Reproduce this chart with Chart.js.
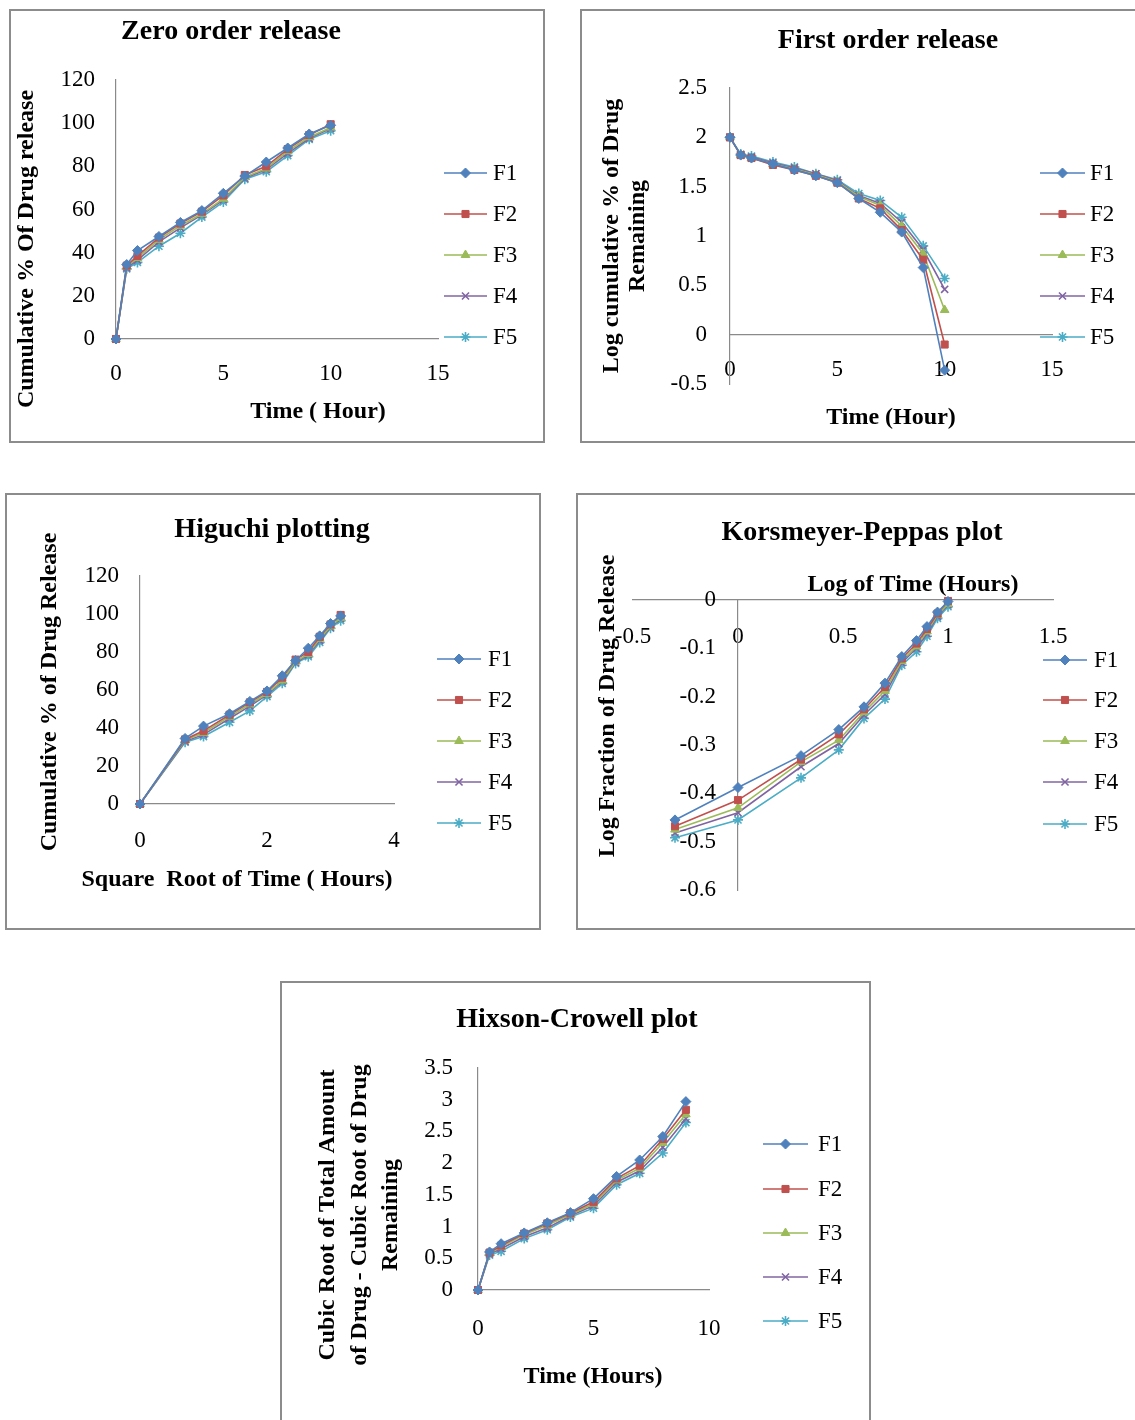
<!DOCTYPE html>
<html>
<head>
<meta charset="utf-8">
<script src="https://cdn.jsdelivr.net/npm/chart.js@4.4.0/dist/chart.umd.min.js"></script>
<style>
body { margin: 0; background: #fff; width: 1135px; height: 1420px; position: relative; overflow: hidden; }
.panel { position: absolute; box-sizing: border-box; border: 2px solid #8c8c8c; }
canvas { position: absolute; }
</style>
</head>
<body>
<div class="panel" style="left:9px;top:9px;width:536px;height:434px"></div>
<div class="panel" style="left:580px;top:9px;width:570px;height:434px"></div>
<div class="panel" style="left:5px;top:493px;width:536px;height:437px"></div>
<div class="panel" style="left:576px;top:493px;width:570px;height:437px"></div>
<div class="panel" style="left:280px;top:981px;width:591px;height:450px"></div>
<canvas id="zero" width="536" height="434" style="left:9px;top:9px"></canvas>
<canvas id="first" width="555" height="434" style="left:580px;top:9px"></canvas>
<canvas id="higuchi" width="536" height="437" style="left:5px;top:493px"></canvas>
<canvas id="peppas" width="559" height="437" style="left:576px;top:493px"></canvas>
<canvas id="hixson" width="591" height="439" style="left:280px;top:981px"></canvas>
<script>
var series = ['F1', 'F2', 'F3', 'F4', 'F5'];
var colors = ['#4F81BD', '#C0504D', '#9BBB59', '#8064A2', '#4BACC6'];
var marks = ['rectRot', 'rect', 'triangle', 'crossRot', 'star'];
var radii = [5, 5, 5, 5, 5];
var markWidths = [1, 1, 1, 1.6, 1.6];

// zero order (cumulative % released vs time)
var zeroTime = [0, 0.5, 1, 2, 3, 4, 5, 6, 7, 8, 9, 10];
var zeroF1 = [0, 34.5, 41, 47.5, 54, 59.5, 67.5, 75.5, 82, 88.5, 95, 99];
var zeroF2 = [0, 34, 38.5, 47, 53.5, 59, 66.5, 76, 80, 88, 94.5, 99.5];
var zeroF3 = [0, 33.5, 37.5, 46, 52.5, 58, 65, 75, 79, 87, 93.5, 98];
var zeroF4 = [0, 33, 36.5, 45, 51.5, 57.5, 64.5, 74.5, 78.5, 86, 93, 97.5];
var zeroF5 = [0, 32.5, 35.5, 43, 49, 56.5, 63.5, 74, 77.5, 85, 92.5, 96.5];
var zeroXTicks = [0, 5, 10, 15];
var zeroYTicks = [0, 20, 40, 60, 80, 100, 120];

// first order (log % remaining)
var firstF1 = [2, 1.82, 1.79, 1.73, 1.67, 1.61, 1.54, 1.38, 1.24, 1.04, 0.68, -0.36];
var firstF2 = [2, 1.82, 1.79, 1.72, 1.67, 1.61, 1.54, 1.38, 1.28, 1.06, 0.76, -0.1];
var firstF3 = [2, 1.82, 1.79, 1.73, 1.68, 1.62, 1.55, 1.40, 1.31, 1.10, 0.82, 0.25];
var firstF4 = [2, 1.82, 1.80, 1.74, 1.69, 1.63, 1.56, 1.41, 1.33, 1.14, 0.86, 0.46];
var firstF5 = [2, 1.83, 1.81, 1.75, 1.70, 1.63, 1.57, 1.43, 1.36, 1.19, 0.90, 0.57];
var firstXTicks = [0, 5, 10, 15];
var firstYTicks = [-0.5, 0, 0.5, 1, 1.5, 2, 2.5];

// higuchi (same release values against square root of time)
var rootTime = [0, 0.71, 1, 1.41, 1.73, 2, 2.24, 2.45, 2.65, 2.83, 3, 3.16];
var higXTicks = [0, 2, 4];
var higYTicks = [0, 20, 40, 60, 80, 100, 120];

// korsmeyer-peppas (log fraction released vs log time)
var logTime = [-0.30, 0, 0.30, 0.48, 0.60, 0.70, 0.78, 0.85, 0.90, 0.95, 1.00];
var kpF1 = [-0.455, -0.388, -0.322, -0.268, -0.221, -0.172, -0.117, -0.084, -0.055, -0.025, -0.003];
var kpF2 = [-0.468, -0.414, -0.330, -0.278, -0.226, -0.180, -0.121, -0.090, -0.060, -0.028, -0.002];
var kpF3 = [-0.475, -0.430, -0.335, -0.290, -0.232, -0.188, -0.126, -0.096, -0.065, -0.031, -0.008];
var kpF4 = [-0.482, -0.440, -0.345, -0.297, -0.238, -0.195, -0.130, -0.100, -0.070, -0.034, -0.010];
var kpF5 = [-0.492, -0.455, -0.368, -0.310, -0.245, -0.205, -0.135, -0.107, -0.075, -0.038, -0.014];
var kpXTicks = [-0.5, 0, 0.5, 1, 1.5];
var kpYTicks = [-0.6, -0.5, -0.4, -0.3, -0.2, -0.1, 0];

// hixson-crowell (cube root difference)
var hixTime = [0, 0.5, 1, 2, 3, 4, 5, 6, 7, 8, 9];
var hixF1 = [0, 0.60, 0.73, 0.90, 1.06, 1.22, 1.44, 1.79, 2.05, 2.42, 2.97];
var hixF2 = [0, 0.59, 0.70, 0.89, 1.05, 1.21, 1.39, 1.76, 1.96, 2.38, 2.84];
var hixF3 = [0, 0.58, 0.68, 0.87, 1.02, 1.19, 1.36, 1.73, 1.92, 2.32, 2.77];
var hixF4 = [0, 0.57, 0.65, 0.84, 0.98, 1.17, 1.33, 1.70, 1.88, 2.25, 2.70];
var hixF5 = [0, 0.55, 0.61, 0.81, 0.95, 1.15, 1.29, 1.66, 1.84, 2.16, 2.64];
var hixXTicks = [0, 5, 10];
var hixYTicks = [0, 0.5, 1, 1.5, 2, 2.5, 3, 3.5];

var SERIF = '"Liberation Serif", "Times New Roman", serif';
Chart.defaults.font.family = SERIF;
Chart.defaults.color = '#000';

function decor(spec) {
  return {
    id: 'decor',
    afterDraw: function(chart) {
      var ctx = chart.ctx;
      ctx.save();
      ctx.fillStyle = '#000';
      ctx.textAlign = 'center';
      ctx.textBaseline = 'middle';
      ctx.font = 'bold 28px ' + SERIF;
      ctx.fillText(spec.title[0], spec.title[1], spec.title[2]);
      ctx.font = 'bold 24px ' + SERIF;
      ctx.fillText(spec.xTitle[0], spec.xTitle[1], spec.xTitle[2]);
      spec.yTitle.forEach(function(t) {
        ctx.save();
        ctx.translate(t[1], t[2]);
        ctx.rotate(-Math.PI / 2);
        ctx.fillText(t[0], 0, 0);
        ctx.restore();
      });
      ctx.font = '23px ' + SERIF;
      ctx.textAlign = 'left';
      chart.data.datasets.forEach(function(ds, i) {
        var y = spec.legY[i];
        ctx.strokeStyle = ds.borderColor;
        ctx.lineWidth = 1.5;
        ctx.beginPath();
        ctx.moveTo(spec.legX[0], y);
        ctx.lineTo(spec.legX[1], y);
        ctx.stroke();
        ctx.fillStyle = ds.backgroundColor;
        ctx.lineWidth = ds.pointBorderWidth;
        Chart.helpers.drawPoint(ctx, {pointStyle: ds.pointStyle, radius: ds.pointRadius, borderWidth: ds.pointBorderWidth, rotation: 0},
          (spec.legX[0] + spec.legX[1]) / 2, y);
        ctx.fillStyle = '#000';
        ctx.fillText(ds.label, spec.legX[2], y + 1);
      });
      ctx.restore();
    }
  };
}

function axis(ticks, position, size, pad) {
  var o = {
    type: 'linear',
    min: ticks[0],
    max: ticks[ticks.length - 1],
    position: position,
    grid: {display: false, drawTicks: false},
    border: {display: true, color: '#8a8a8a', width: 1.2},
    ticks: {
      padding: pad, color: '#000', font: {size: 23}, autoSkip: false, maxRotation: 0,
      callback: function(v) { return String(v); }
    },
    afterBuildTicks: function(s) {
      s.ticks = ticks.map(function(v) { return {value: v}; });
    }
  };
  if (size) {
    o.afterFit = function(s) {
      if (s.isHorizontal()) s.height = size; else s.width = size;
    };
  }
  return o;
}

function makeChart(id, xs, ysList, pad, scales, spec) {
  var datasets = ysList.map(function(ys, i) {
    return {
      label: series[i],
      data: xs.map(function(x, j) { return {x: x, y: ys[j]}; }),
      showLine: true,
      borderColor: colors[i],
      backgroundColor: colors[i],
      borderWidth: 1.6,
      pointStyle: marks[i],
      pointRadius: radii[i],
      pointBorderWidth: markWidths[i],
      pointHoverRadius: radii[i],
      clip: false
    };
  });
  return new Chart(document.getElementById(id), {
    type: 'scatter',
    data: {datasets: datasets},
    options: {
      responsive: false,
      animation: false,
      layout: {padding: pad},
      plugins: {legend: {display: false}, tooltip: {enabled: false}},
      scales: scales
    },
    plugins: [decor(spec)]
  });
}

makeChart('zero', zeroTime, [zeroF1, zeroF2, zeroF3, zeroF4, zeroF5],
  {left: 0, top: 71, right: 107, bottom: 0},
  {x: axis(zeroXTicks, 'bottom', 104, 21), y: axis(zeroYTicks, 'left', 107, 21)},
  {title: ['Zero order release', 222, 23], xTitle: ['Time ( Hour)', 309, 403],
   yTitle: [['Cumulative % Of Drug release', 18, 240]],
   legY: [164, 205, 246, 287, 328], legX: [435, 478, 484]});

makeChart('first', zeroTime, [firstF1, firstF2, firstF3, firstF4, firstF5],
  {left: 0, top: 79, right: 83, bottom: 59},
  {x: axis(firstXTicks, {y: 0}, 0, 21), y: axis(firstYTicks, 'left', 150, 23)},
  {title: ['First order release', 308, 32], xTitle: ['Time (Hour)', 311, 409],
   yTitle: [['Log cumulative % of Drug', 32, 227], ['Remaining', 58, 227]],
   legY: [164, 205, 246, 287, 328], legX: [460, 505, 510]});

makeChart('higuchi', rootTime, [zeroF1, zeroF2, zeroF3, zeroF4, zeroF5],
  {left: 0, top: 83, right: 147, bottom: 0},
  {x: axis(higXTicks, 'bottom', 126, 23), y: axis(higYTicks, 'left', 135, 21)},
  {title: ['Higuchi plotting', 267, 37], xTitle: ['Square  Root of Time ( Hours)', 232, 387],
   yTitle: [['Cumulative % of Drug Release', 45, 199]],
   legY: [166, 207, 248, 289, 330], legX: [432, 476, 483]});

// y axis line crosses at x = 0; its tick labels sit on a borderless twin a little to the left
var kpY = axis(kpYTicks, {x: 0}, 0, 0);
kpY.ticks.display = false;
var kpYLabels = axis(kpYTicks, {x: -0.105}, 0, 0);
kpYLabels.border = {display: false};
makeChart('peppas', logTime, [kpF1, kpF2, kpF3, kpF4, kpF5],
  {left: 57, top: 107, right: 82, bottom: 40},
  {x: axis(kpXTicks, {y: 0}, 0, 23), y: kpY, yLabels: kpYLabels},
  {title: ['Korsmeyer-Peppas plot', 286, 40], xTitle: ['Log of Time (Hours)', 337, 92],
   yTitle: [['Log Fraction of Drug Release', 32, 213]],
   legY: [167, 207, 248, 289, 331], legX: [467, 511, 518]});

makeChart('hixson', hixTime, [hixF1, hixF2, hixF3, hixF4, hixF5],
  {left: 0, top: 87, right: 162, bottom: 0},
  {x: axis(hixXTicks, 'bottom', 130, 25), y: axis(hixYTicks, 'left', 198, 25)},
  {title: ['Hixson-Crowell plot', 297, 39], xTitle: ['Time (Hours)', 313, 396],
   yTitle: [['Cubic Root of Total Amount', 48, 234], ['of Drug - Cubic Root of Drug', 80, 234], ['Remaining', 111, 234]],
   legY: [163, 208, 252, 296, 340], legX: [483, 528, 538]});
</script>
</body>
</html>
